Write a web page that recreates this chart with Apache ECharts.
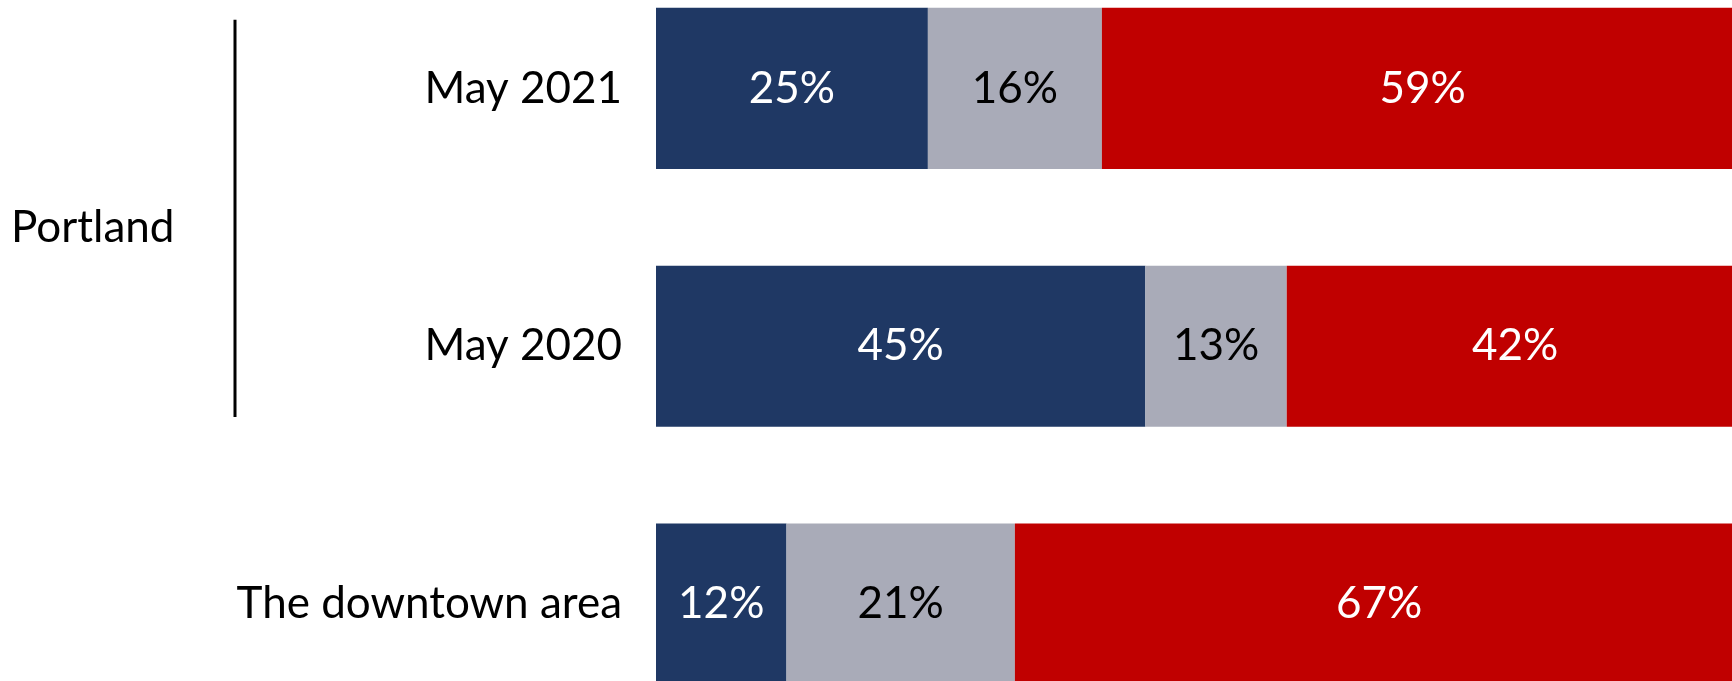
<!DOCTYPE html>
<html>
<head>
<meta charset="utf-8">
<script src="https://cdn.jsdelivr.net/npm/echarts@6/dist/echarts.min.js"></script>
<style>
html,body{margin:0;padding:0;background:#fff;}
#chart{width:1732px;height:681px;}
</style>
</head>
<body>
<div id="chart"></div>
<script>
const categories = ["May 2021", "May 2020", "The downtown area"];
const seriesNames = ["Positive", "Unsure", "Negative"];
const positive = [25, 45, 12];
const unsure = [16, 13, 21];
const negative = [59, 42, 67];
const groupLabel = "Portland";
const groupMembers = ["May 2021", "May 2020"];

const colors = ["#1F3864", "#A9ABB8", "#C00000"];
const labelColors = ["#ffffff", "#000000", "#ffffff"];
const FONT = "Lato";
const FS = 44;

const chart = echarts.init(document.getElementById('chart'));
const values = [positive, unsure, negative];
const series = values.map((v, i) => ({
  name: seriesNames[i],
  type: 'bar',
  stack: 'total',
  data: v,
  barCategoryGap: '37.5%',
  itemStyle: { color: colors[i] },
  label: {
    show: true,
    position: 'inside',
    formatter: p => p.value + '%',
    color: labelColors[i],
    fontFamily: FONT,
    fontSize: FS
  },
  silent: true
}));

const option = {
  animation: false,
  backgroundColor: '#ffffff',
  grid: { left: 656, width: 1087.5, top: -40.6, height: 773.7, outerBoundsMode: 'none', containLabel: false },
  xAxis: {
    type: 'value', min: 0, max: 100, show: false
  },
  yAxis: {
    type: 'category',
    data: categories,
    inverse: true,
    axisLine: { show: false },
    axisTick: { show: false },
    axisLabel: {
      margin: 34,
      color: '#000',
      fontFamily: FONT,
      fontSize: FS
    }
  },
  series: series
};
chart.setOption(option);

const y1 = chart.convertToPixel({ yAxisIndex: 0 }, groupMembers[0]);
const y2 = chart.convertToPixel({ yAxisIndex: 0 }, groupMembers[groupMembers.length - 1]);
const band = chart.convertToPixel({ yAxisIndex: 0 }, categories[1]) - chart.convertToPixel({ yAxisIndex: 0 }, categories[0]);
const half = band * 0.6254 / 2;
chart.setOption({
  graphic: [
    {
      type: 'line',
      shape: { x1: 235, y1: y1 - half + 12, x2: 235, y2: y2 + half - 10 },
      style: { stroke: '#000', lineWidth: 3 }
    },
    {
      type: 'text',
      x: 11,
      y: (y1 + y2) / 2 + 11,
      style: {
        text: groupLabel,
        fontFamily: FONT,
        fontSize: FS,
        fill: '#000',
        textVerticalAlign: 'middle',
        verticalAlign: 'middle'
      }
    }
  ]
});
</script>
</body>
</html>
